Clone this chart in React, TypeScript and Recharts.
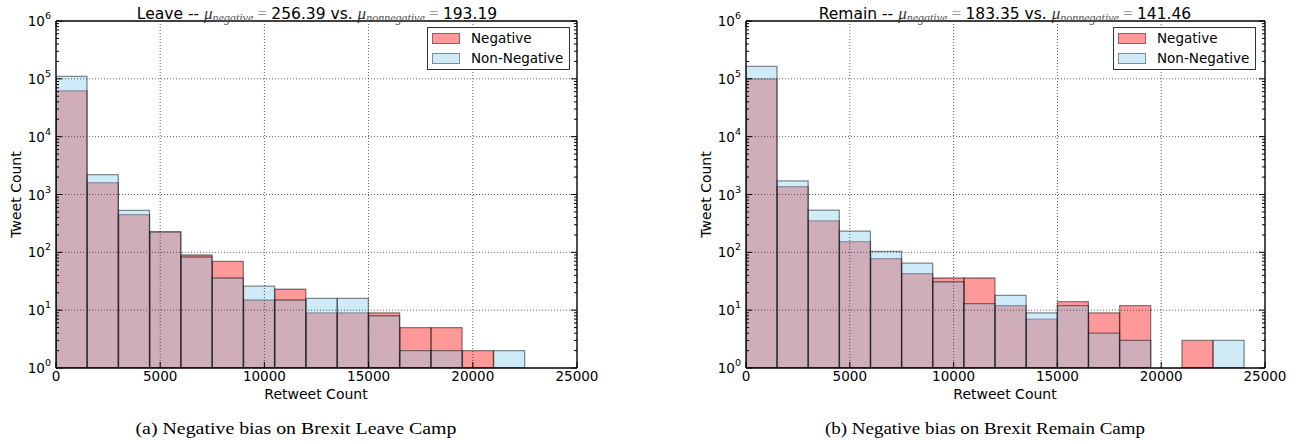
import React from 'react';
import { ComposedChart, Bar, XAxis, YAxis, CartesianGrid, Legend } from 'recharts';

// Histogram bins (width 1500 retweets), given by bin centers
const binCenters = [750, 2250, 3750, 5250, 6750, 8250, 9750, 11250, 12750, 14250, 15750, 17250, 18750, 20250, 21750, 23250];

// Leave camp
const leaveNegative = [62000, 1600, 450, 225, 90, 70, 15, 23, 9, 9, 9, 5, 5, 2, null, null];
const leaveNonNegative = [110000, 2200, 530, 225, 83, 36, 26, 15, 16, 16, 8, 2, 2, null, 2, null];

// Remain camp
const remainNegative = [100000, 1370, 350, 153, 78, 43, 36, 36, 12, 7, 14, 9, 12, null, 3, null];
const remainNonNegative = [164000, 1720, 537, 233, 104, 65, 31, 13, 18, 9, 12, 4, 3, null, null, 3];

const seriesNames = ['Negative', 'Non-Negative'];
const seriesFills = ['rgba(255,0,0,0.4)', 'rgba(135,206,235,0.4)'];

const campNames = ['Leave', 'Remain'];
const negMeans = ['256.39', '183.35'];
const nonNegMeans = ['193.19', '141.46'];
const captions = ['(a)  Negative bias on Brexit Leave Camp', '(b)  Negative bias on Brexit Remain Camp'];
const xAxisTitle = 'Retweet Count';
const yAxisTitle = 'Tweet Count';

const xTicks = [0, 5000, 10000, 15000, 20000, 25000];
const xGridValues = [5000, 10000, 15000, 20000];
const yMajorTicks = [1, 10, 100, 1000, 10000, 100000, 1000000];
const yMinorFactors = [2, 3, 4, 5, 6, 7, 8, 9];
const yGridValues = [10, 100, 1000, 10000, 100000];

const yAllTicks: number[] = [];
yMajorTicks.forEach((d, i) => {
  yAllTicks.push(d);
  if (i < yMajorTicks.length - 1) yMinorFactors.forEach((f) => yAllTicks.push(f * d));
});

const FONT = '"DejaVu Sans", sans-serif';
const MATH = '"Liberation Serif", serif';
const SERIF = '"Liberation Serif", serif';

function isMajor(v: number) {
  const e = Math.round(Math.log10(v));
  return Math.abs(v / Math.pow(10, e) - 1) < 1e-9;
}

const LeftYTick = (p: any) => {
  const { x, y, payload } = p;
  const v = payload.value;
  const major = isMajor(v);
  const exp = Math.round(Math.log10(v));
  return (
    <g>
      <line x1={x} y1={y} x2={x + (major ? 6 : 3)} y2={y} stroke="#000" strokeWidth={1} />
      {major && (
        <text x={x - 5} y={y + 5} textAnchor="end" fontFamily={FONT} fontSize={13.5} fill="#000">
          10
          <tspan dy={-7} fontSize={9.5}>{exp}</tspan>
        </text>
      )}
    </g>
  );
};

const RightYTick = (p: any) => {
  const { x, y, payload } = p;
  const major = isMajor(payload.value);
  return <line x1={x} y1={y} x2={x - (major ? 6 : 3)} y2={y} stroke="#000" strokeWidth={1} />;
};

const BottomXTick = (p: any) => {
  const { x, y, payload } = p;
  return (
    <g>
      <line x1={x} y1={y} x2={x} y2={y - 6} stroke="#000" strokeWidth={1} />
      <text x={x} y={y + 13} textAnchor="middle" fontFamily={FONT} fontSize={13.5} fill="#000">
        {payload.value}
      </text>
    </g>
  );
};

const TopXTick = (p: any) => {
  const { x, y } = p;
  return <line x1={x} y1={y} x2={x} y2={y + 6} stroke="#000" strokeWidth={1} />;
};

const LegendBox = (props: any) => {
  const payload = props.payload || [];
  return (
    <div
      style={{
        width: 143,
        height: 43,
        boxSizing: 'border-box',
        border: '1.5px solid #333',
        background: '#fff',
        fontFamily: FONT,
        fontSize: 13.5,
        position: 'relative',
        color: '#000',
      }}
    >
      {payload.map((e: any, i: number) => (
        <div
          key={i}
          style={{ position: 'absolute', left: 4, top: 5 + i * 20, height: 11, display: 'flex', alignItems: 'center' }}
        >
          <div
            style={{
              width: 28,
              height: 11,
              boxSizing: 'border-box',
              background: e.color,
              border: '1px solid rgba(0,0,0,0.4)',
            }}
          />
          <span style={{ marginLeft: 11, lineHeight: '11px', whiteSpace: 'nowrap' }}>{e.value}</span>
        </div>
      ))}
    </div>
  );
};

function Histogram({ neg, pos, width, legendLeft }: any) {
  const data = binCenters.map((c, i) => ({ x: c, neg: neg[i], pos: pos[i] }));
  const axisLine = { stroke: '#000', strokeWidth: 1.4 };
  return (
    <ComposedChart
      width={width}
      height={444}
      data={data}
      margin={{ top: 11, right: 61, bottom: 36, left: 16 }}
      barCategoryGap={0}
      barGap={0}
    >
      <XAxis
        xAxisId="a"
        dataKey="x"
        type="number"
        domain={[0, 25000]}
        allowDataOverflow
        ticks={xTicks}
        interval={0}
        height={40}
        tickSize={0}
        tickMargin={0}
        tickLine={false}
        axisLine={axisLine}
        tick={<BottomXTick />}
      />
      <XAxis xAxisId="b" dataKey="x" type="number" domain={[0, 25000]} allowDataOverflow hide />
      <XAxis
        xAxisId="top"
        orientation="top"
        type="number"
        domain={[0, 25000]}
        allowDataOverflow
        ticks={xTicks}
        interval={0}
        height={10}
        tickSize={0}
        tickMargin={0}
        tickLine={false}
        axisLine={axisLine}
        tick={<TopXTick />}
      />
      <YAxis
        yAxisId="l"
        type="number"
        scale="log"
        domain={[1, 1000000]}
        allowDataOverflow
        ticks={yAllTicks}
        interval={0}
        width={40}
        tickSize={0}
        tickMargin={0}
        tickLine={false}
        axisLine={axisLine}
        tick={<LeftYTick />}
      />
      <YAxis
        yAxisId="r"
        orientation="right"
        type="number"
        scale="log"
        domain={[1, 1000000]}
        allowDataOverflow
        ticks={yAllTicks}
        interval={0}
        width={10}
        tickSize={0}
        tickMargin={0}
        tickLine={false}
        axisLine={axisLine}
        tick={<RightYTick />}
      />
      <Bar
        xAxisId="a"
        yAxisId="l"
        dataKey="neg"
        name={seriesNames[0]}
        fill={seriesFills[0]}
        stroke="rgba(0,0,0,0.45)"
        strokeWidth={1.3}
        isAnimationActive={false}
      />
      <Bar
        xAxisId="b"
        yAxisId="l"
        dataKey="pos"
        name={seriesNames[1]}
        fill={seriesFills[1]}
        stroke="rgba(0,0,0,0.45)"
        strokeWidth={1.3}
        isAnimationActive={false}
      />
      <CartesianGrid
        xAxisId="a"
        yAxisId="l"
        horizontalValues={yGridValues}
        verticalValues={xGridValues}
        stroke="#333"
        strokeWidth={0.8}
        strokeDasharray="1 2"
        fill="none"
        zIndex={1000}
      />
      <Legend
        layout="vertical"
        align="center"
        verticalAlign="middle"
        content={<LegendBox />}
        wrapperStyle={{ position: 'absolute', left: legendLeft, top: 27, width: 143, height: 43, margin: 0 }}
      />
    </ComposedChart>
  );
}

function Title({ cx, i }: any) {
  return (
    <text x={cx} y={18.5} textAnchor="middle" fontFamily={FONT} fontSize={15.5} fill="#000">
      <tspan>{`${campNames[i]} -- `}</tspan>
      <tspan fontFamily={MATH} fontStyle="italic" fontSize={17} fill="#333">μ</tspan>
      <tspan fontFamily={MATH} fontStyle="italic" fontSize={12} dy={3.5} fill="#555">negative</tspan>
      <tspan dy={-3.5} fontSize={17} fontFamily={MATH} fill="#999">{' = '}</tspan>
      <tspan>{`${negMeans[i]} vs. `}</tspan>
      <tspan fontFamily={MATH} fontStyle="italic" fontSize={17} fill="#333">μ</tspan>
      <tspan fontFamily={MATH} fontStyle="italic" fontSize={12} dy={3.5} fill="#555">nonnegative</tspan>
      <tspan dy={-3.5} fontSize={17} fontFamily={MATH} fill="#999">{' = '}</tspan>
      <tspan>{nonNegMeans[i]}</tspan>
    </text>
  );
}

export default function App() {
  return (
    <div style={{ position: 'absolute', left: 0, top: 0, width: 1296, height: 444, background: '#fff', overflow: 'hidden' }}>
      <div style={{ position: 'absolute', left: 0, top: 0 }}>
        <Histogram neg={leaveNegative} pos={leaveNonNegative} width={648} legendLeft={427} />
      </div>
      <div style={{ position: 'absolute', left: 690, top: 0 }}>
        <Histogram neg={remainNegative} pos={remainNonNegative} width={646} legendLeft={423} />
      </div>
      <svg width={1296} height={444} style={{ position: 'absolute', left: 0, top: 0, pointerEvents: 'none' }}>
        <Title cx={317} i={0} />
        <Title cx={1005} i={1} />
        <text x={316} y={399} textAnchor="middle" fontFamily={FONT} fontSize={14} fill="#000">{xAxisTitle}</text>
        <text x={1005} y={399} textAnchor="middle" fontFamily={FONT} fontSize={14} fill="#000">{xAxisTitle}</text>
        <text x={21} y={194.5} textAnchor="middle" transform="rotate(-90 21 194.5)" fontFamily={FONT} fontSize={14} fill="#000">{yAxisTitle}</text>
        <text x={711} y={194.5} textAnchor="middle" transform="rotate(-90 711 194.5)" fontFamily={FONT} fontSize={14} fill="#000">{yAxisTitle}</text>
        <text x={296} y={434} textAnchor="middle" fontFamily={SERIF} fontSize={17.5} fill="#000" textLength={321} lengthAdjust="spacingAndGlyphs">{captions[0]}</text>
        <text x={985} y={434} textAnchor="middle" fontFamily={SERIF} fontSize={17.5} fill="#000" textLength={320} lengthAdjust="spacingAndGlyphs">{captions[1]}</text>
      </svg>
    </div>
  );
}
